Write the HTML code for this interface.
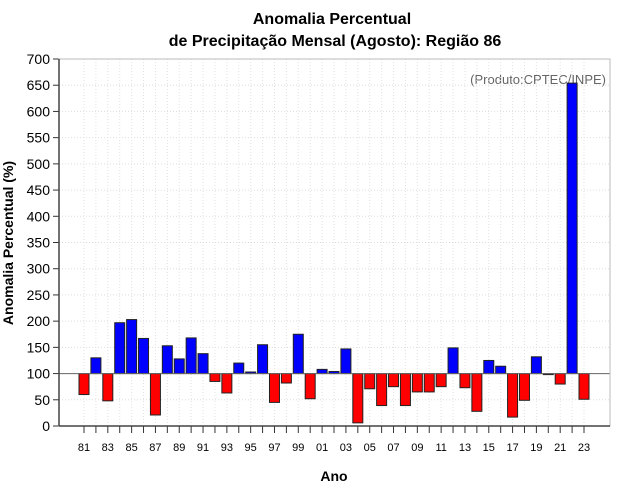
<!DOCTYPE html>
<html><head><meta charset="utf-8"><style>body{margin:0;background:#fff}svg{display:block;font-family:"Liberation Sans",sans-serif}</style></head>
<body>
<svg id="chart" width="640" height="500">
<text x="332" y="24" text-anchor="middle" font-size="16" font-weight="bold">Anomalia Percentual</text>
<text x="335" y="46" text-anchor="middle" font-size="16" font-weight="bold">de Precipitação Mensal (Agosto): Região 86</text>
<text x="334" y="481" text-anchor="middle" font-size="14" font-weight="bold">Ano</text>
<text transform="translate(13,243) rotate(-90)" text-anchor="middle" font-size="14" font-weight="bold">Anomalia Percentual (%)</text>
<text x="606" y="84" text-anchor="end" font-size="13" fill="#666">(Produto:CPTEC/INPE)</text>
<g id="grid"></g><g id="bars"></g><g id="axes"></g>
</svg>
<script>
const years=['81','82','83','84','85','86','87','88','89','90','91','92','93','94','95','96','97','98','99','00','01','02','03','04','05','06','07','08','09','10','11','12','13','14','15','16','17','18','19','20','21','22','23'];
const values=[60,130,48,197,203,167,21,153,128,168,138,85,63,120,103,155,45,82,175,52,108,104,147,6,71,39,75,39,65,65,75,149,73,28,125,114,17,49,132,98,80,654,51];
const yTicks=[0,50,100,150,200,250,300,350,400,450,500,550,600,650,700];
const NS='http://www.w3.org/2000/svg';
const L=59,R=610,T=59,B=426;
const y=v=>B-(v/700)*(B-T);
const x=i=>84+i*11.905;
function mk(t,a,p){const e=document.createElementNS(NS,t);for(const k in a)e.setAttribute(k,a[k]);p.appendChild(e);return e;}
const g=document.getElementById('grid'),b=document.getElementById('bars'),ax=document.getElementById('axes');
yTicks.forEach(v=>{
 const l=mk('line',{x1:L,x2:R,y1:y(v),y2:y(v),stroke:'#ddd','stroke-dasharray':'1,2'},g);
 
 
 const t=mk('line',{x1:L-6,x2:L,y1:y(v),y2:y(v),stroke:'#333'},ax);
 
 
 const tx=mk('text',{x:L-9,y:y(v)+5,'text-anchor':'end','font-size':'14'},ax);tx.textContent=v;
 
 
});
years.forEach((yr,i)=>{
 const gl=mk('line',{x1:x(i),x2:x(i),y1:T,y2:B,stroke:'#e2e2e2','stroke-dasharray':'1,2'},g);
 
 
 const tk=mk('line',{x1:x(i),x2:x(i),y1:B,y2:B+7,stroke:'#333'},ax);
 
 
 if(i%2===0){const t=mk('text',{x:x(i),y:B+25,'text-anchor':'middle','font-size':'11'},ax);t.textContent=yr;
 
 }
});
values.forEach((v,i)=>{
 const top=Math.min(y(v),y(100)),h=Math.abs(y(v)-y(100));
 const r=mk('rect',{x:x(i)-5,y:top,width:10,height:Math.max(h,0.8),fill:v>=100?'#0000ff':'#ff0000',stroke:'#222','stroke-width':1},b);
 
 
});
const base=mk('line',{x1:L,x2:R,y1:y(100),y2:y(100),stroke:'#666'},ax);


const box=mk('rect',{x:L,y:T,width:R-L,height:B-T,fill:'none',stroke:'#bbb'},ax);


const la=mk('line',{x1:L,x2:L,y1:T,y2:B,stroke:'#444','stroke-width':1.5},ax);


const ba=mk('line',{x1:L,x2:R,y1:B,y2:B,stroke:'#444','stroke-width':1.5},ax);


</script>
</body></html>
